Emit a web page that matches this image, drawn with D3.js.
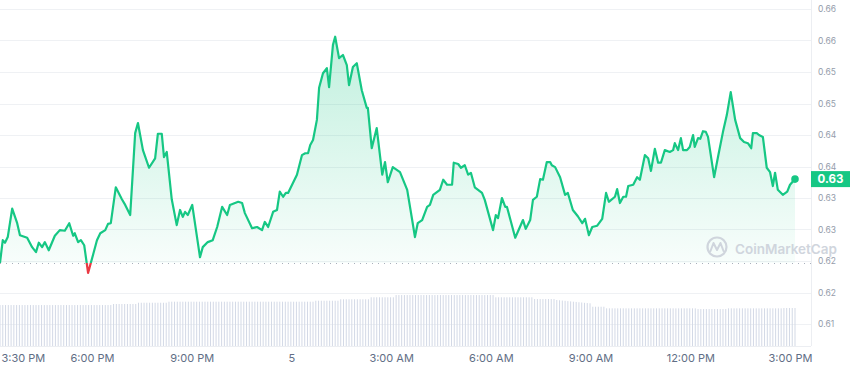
<!DOCTYPE html>
<html><head><meta charset="utf-8">
<script src="https://cdn.jsdelivr.net/npm/d3@7"></script>
<style>html,body{margin:0;padding:0;background:#fff;overflow:hidden}svg{display:block;font-family:Inter,"Noto Sans",sans-serif}</style>
</head><body><svg id="c" width="850" height="371"></svg>
<script>
const startTime = "2023-06-04T15:14:00";
const volumeStepMinutes = 5;
const minutesFromStart = [0,5,9,14,22,31,36,49,58,65,70,76,81,88,99,108,117,125,132,135,141,146,152,159,168,175,181,190,195,200,209,220,226,235,244,249,258,269,280,285,292,296,301,310,319,325,330,334,339,347,361,366,375,384,392,401,410,415,430,437,442,455,464,473,478,484,493,500,505,511,516,520,536,545,551,556,560,565,572,576,583,590,594,601,605,612,619,626,630,637,644,653,662,664,671,680,690,695,700,709,722,735,744,749,754,762,771,776,782,794,800,807,816,819,827,832,839,845,850,857,870,875,890,895,899,906,912,915,930,944,949,957,962,969,975,980,987,993,996,1002,1011,1020,1025,1034,1043,1051,1056,1063,1069,1078,1087,1094,1099,1110,1114,1119,1125,1130,1134,1143,1150,1155,1164,1170,1175,1182,1188,1193,1200,1209,1215,1218,1224,1229,1233,1240,1245,1251,1254,1260,1264,1269,1274,1278,1289,1296,1305,1312,1319,1327,1336,1343,1350,1356,1359,1366,1370,1377,1384,1390,1395,1399,1404,1413,1421,1426,1435];
const prices = [0.6197,0.6233,0.6229,0.6238,0.6283,0.6260,0.6241,0.6237,0.6222,0.6214,0.6229,0.6222,0.6230,0.6217,0.6240,0.6249,0.6248,0.6260,0.6240,0.6244,0.6230,0.6233,0.6225,0.6181,0.6210,0.6233,0.6244,0.6249,0.6259,0.6260,0.6317,0.6298,0.6289,0.6273,0.6403,0.6419,0.6376,0.6348,0.6363,0.6402,0.6402,0.6365,0.6373,0.6298,0.6257,0.6281,0.6270,0.6278,0.6273,0.6289,0.6206,0.6222,0.6230,0.6233,0.6254,0.6286,0.6273,0.6289,0.6294,0.6292,0.6276,0.6252,0.6254,0.6249,0.6262,0.6254,0.6278,0.6281,0.6310,0.6302,0.6308,0.6308,0.6337,0.6368,0.6371,0.6371,0.6384,0.6392,0.6424,0.6475,0.6498,0.6506,0.6476,0.6543,0.6556,0.6522,0.6527,0.6511,0.6479,0.6508,0.6514,0.6471,0.6443,0.6443,0.6379,0.6411,0.6337,0.6357,0.6325,0.6349,0.6341,0.6313,0.6265,0.6238,0.6260,0.6265,0.6286,0.6289,0.6305,0.6313,0.6329,0.6321,0.6321,0.6356,0.6354,0.6348,0.6352,0.6337,0.6340,0.6317,0.6308,0.6297,0.6249,0.6273,0.6268,0.6300,0.6286,0.6286,0.6237,0.6265,0.6251,0.6265,0.6297,0.6302,0.6330,0.6329,0.6357,0.6357,0.6352,0.6349,0.6333,0.6305,0.6308,0.6281,0.6271,0.6260,0.6267,0.6241,0.6254,0.6256,0.6267,0.6308,0.6294,0.6302,0.6314,0.6292,0.6302,0.6302,0.6319,0.6321,0.6333,0.6329,0.6368,0.6363,0.6343,0.6378,0.6356,0.6356,0.6376,0.6373,0.6376,0.6387,0.6376,0.6395,0.6376,0.6376,0.6381,0.6400,0.6381,0.6395,0.6394,0.6406,0.6405,0.6397,0.6333,0.6365,0.6405,0.6432,0.6468,0.6424,0.6395,0.6389,0.6387,0.6379,0.6403,0.6403,0.6400,0.6397,0.6348,0.6341,0.6319,0.6340,0.6313,0.6305,0.6310,0.6321,0.6330];
const volumes = [
512,512,512,512,512,512,512,512,512,512,
512,512,512,512,512,512,512,512,512,512,
512,512,512,512,512,512,512,512,512,512,
512,512,512,512,512,512,512,512,512,512,
512,
525,525,525,525,525,525,525,525,525,
541,541,541,541,541,541,541,541,541,541,541,
554,554,554,554,554,554,554,554,554,554,
554,554,554,554,554,554,554,554,554,554,
554,554,554,554,554,554,554,554,554,554,
554,554,554,554,554,554,554,554,554,554,
554,554,554,554,554,554,554,554,554,554,
554,554,554,
566,566,566,566,566,566,566,566,566,
584,584,584,584,584,584,584,584,584,584,584,
609,609,609,609,609,609,609,609,609,
637,637,637,637,637,637,637,637,637,637,
637,637,637,637,637,637,637,637,637,637,
637,637,637,637,637,637,637,637,637,637,
637,637,637,637,637,637,
609,609,609,609,609,609,609,609,609,609,
609,609,609,609,
587,587,587,587,587,587,587,587,
575,572,568,565,561,558,554,551,547,544,540,537,534,
491,491,491,491,491,
471,471,471,471,471,471,471,471,471,471,
471,471,471,471,471,471,471,471,471,471,
471,471,471,471,471,471,471,471,471,471,
471,471,471,
462,462,462,462,462,462,462,462,462,462,462,
471,471,471,471,471,471,471,471,471,471,
471,471,471,471,471,471,471,471,471,471,
475,475,475,475,475];
const yTickValues = [0.61,0.615,0.62,0.625,0.63,0.635,0.64,0.645,0.65,0.655,0.66];
const yTickLabels = ["0.61","0.62","0.62","0.63","0.63","0.64","0.64","0.65","0.65","0.66","0.66"];
const xTickTimes = ["2023-06-04T15:30:00","2023-06-04T18:00:00","2023-06-04T21:00:00","2023-06-05T00:00:00","2023-06-05T03:00:00","2023-06-05T06:00:00","2023-06-05T09:00:00","2023-06-05T12:00:00","2023-06-05T15:00:00"];
const xTickLabels = ["3:30 PM","6:00 PM","9:00 PM","5","3:00 AM","6:00 AM","9:00 AM","12:00 PM","3:00 PM"];
const currentPriceLabel = "0.63";
const watermarkText = "CoinMarketCap";

const svg = d3.select("#c");
const plotRight = 811, plotBottom = 346;
const t0 = new Date(startTime);
const data = prices.map((p,i)=>({t:d3.timeMinute.offset(t0, minutesFromStart[i]), p}));
const x = d3.scaleTime().domain(d3.extent(data,d=>d.t)).range([0,795]);
const y = d3.scaleLinear().domain([0.61,0.66]).range([324,9]);
const yv = d3.scaleLinear().domain([0,800]).range([plotBottom,282]);
const baseY = y(prices[0]);
const green = "#16c784", red = "#ea3943";

const defs = svg.append("defs");
const g1 = defs.append("linearGradient").attr("id","gup").attr("gradientUnits","userSpaceOnUse")
  .attr("x1",0).attr("x2",0).attr("y1",y(0.66)).attr("y2",baseY);
g1.append("stop").attr("offset",0).attr("stop-color",green).attr("stop-opacity",0.3);
g1.append("stop").attr("offset",1).attr("stop-color",green).attr("stop-opacity",0.03);
defs.append("clipPath").attr("id","above").append("rect").attr("x",0).attr("y",0).attr("width",850).attr("height",baseY);
defs.append("clipPath").attr("id","below").append("rect").attr("x",0).attr("y",baseY).attr("width",850).attr("height",371-baseY);

// grid
svg.append("g").selectAll("line").data(yTickValues).join("line")
  .attr("x1",0).attr("x2",plotRight)
  .attr("y1",d=>Math.round(y(d))+0.5).attr("y2",d=>Math.round(y(d))+0.5)
  .attr("stroke","#eff1f4");
svg.append("line").attr("x1",plotRight+0.5).attr("x2",plotRight+0.5).attr("y1",0).attr("y2",plotBottom).attr("stroke","#eceef2");
svg.append("line").attr("x1",0).attr("x2",plotRight).attr("y1",plotBottom+0.5).attr("y2",plotBottom+0.5).attr("stroke","#eceef2");

// volume bars
svg.append("g").selectAll("rect").data(volumes).join("rect")
  .attr("x",(v,i)=>x(d3.timeMinute.offset(t0,i*volumeStepMinutes))-0.5)
  .attr("width",1)
  .attr("y",v=>yv(v)).attr("height",v=>yv(0)-yv(v))
  .attr("fill","#d3d9e6");

// area
const area = d3.area().x(d=>x(d.t)).y0(baseY).y1(d=>y(d.p));
svg.append("path").datum(data).attr("d",area).attr("fill","url(#gup)").attr("clip-path","url(#above)");
svg.append("path").datum(data).attr("d",area).attr("fill",red).attr("fill-opacity",0.08).attr("clip-path","url(#below)");

// baseline
svg.append("line").attr("x1",0).attr("x2",plotRight).attr("y1",Math.round(baseY)+0.5).attr("y2",Math.round(baseY)+0.5)
  .attr("stroke","#a9b0bc").attr("stroke-dasharray","1,5");

// watermark
const wm = svg.append("g").attr("opacity",0.9);
wm.append("circle").attr("cx",717).attr("cy",247).attr("r",9.5).attr("fill","none").attr("stroke","#ccd1da").attr("stroke-width",2.2);
wm.append("path").attr("d","M710.5,251 L713.5,243 L717,250 L720.5,243 L723.5,251").attr("fill","none").attr("stroke","#ccd1da").attr("stroke-width",2).attr("stroke-linejoin","round").attr("stroke-linecap","round");
wm.append("text").attr("x",735).attr("y",254).attr("font-size","13.5px").attr("font-weight",600).attr("fill","#ccd1da").text(watermarkText);

// line
const line = d3.line().x(d=>x(d.t)).y(d=>y(d.p));
svg.append("path").datum(data).attr("d",line).attr("fill","none").attr("stroke",green).attr("stroke-width",2.2).attr("stroke-linejoin","round").attr("clip-path","url(#above)");
svg.append("path").datum(data).attr("d",line).attr("fill","none").attr("stroke",red).attr("stroke-width",2.2).attr("stroke-linejoin","round").attr("clip-path","url(#below)");
const last = data[data.length-1];
svg.append("circle").attr("cx",x(last.t)).attr("cy",y(last.p)).attr("r",3.8).attr("fill",green);

// y axis
const ya = svg.append("g").attr("transform",`translate(818,0)`)
  .call(d3.axisRight(y).tickValues(yTickValues).tickFormat((d,i)=>yTickLabels[i]).tickSize(0).tickPadding(0));
ya.select(".domain").remove();
ya.selectAll("text").attr("font-size","8.5px").attr("fill","#959dab").attr("font-family","Inter,sans-serif");

// current price tag
svg.append("rect").attr("x",plotRight).attr("y",y(last.p)-8).attr("width",850-plotRight).attr("height",16).attr("fill",green);
svg.append("text").attr("x",(plotRight+850)/2).attr("y",y(last.p)).attr("dy","0.36em").attr("text-anchor","middle")
  .attr("font-size","11.5px").attr("font-weight",700).attr("fill","#fff").text(currentPriceLabel);

// x axis
const xa = svg.append("g").attr("transform",`translate(0,351)`)
  .call(d3.axisBottom(x).tickValues(xTickTimes.map(s=>new Date(s))).tickFormat((d,i)=>xTickLabels[i]).tickSize(0).tickPadding(3));
xa.select(".domain").remove();
xa.selectAll("text").attr("font-size","11px").attr("fill","#616e85").attr("font-family","Inter,sans-serif");
xa.selectAll(".tick").each(function(d){
  const tx = x(d), t = d3.select(this).select("text");
  const w = this.getBBox().width;
  if (tx - w/2 < 1) t.attr("text-anchor","start").attr("x",1-tx);
});
</script></body></html>
